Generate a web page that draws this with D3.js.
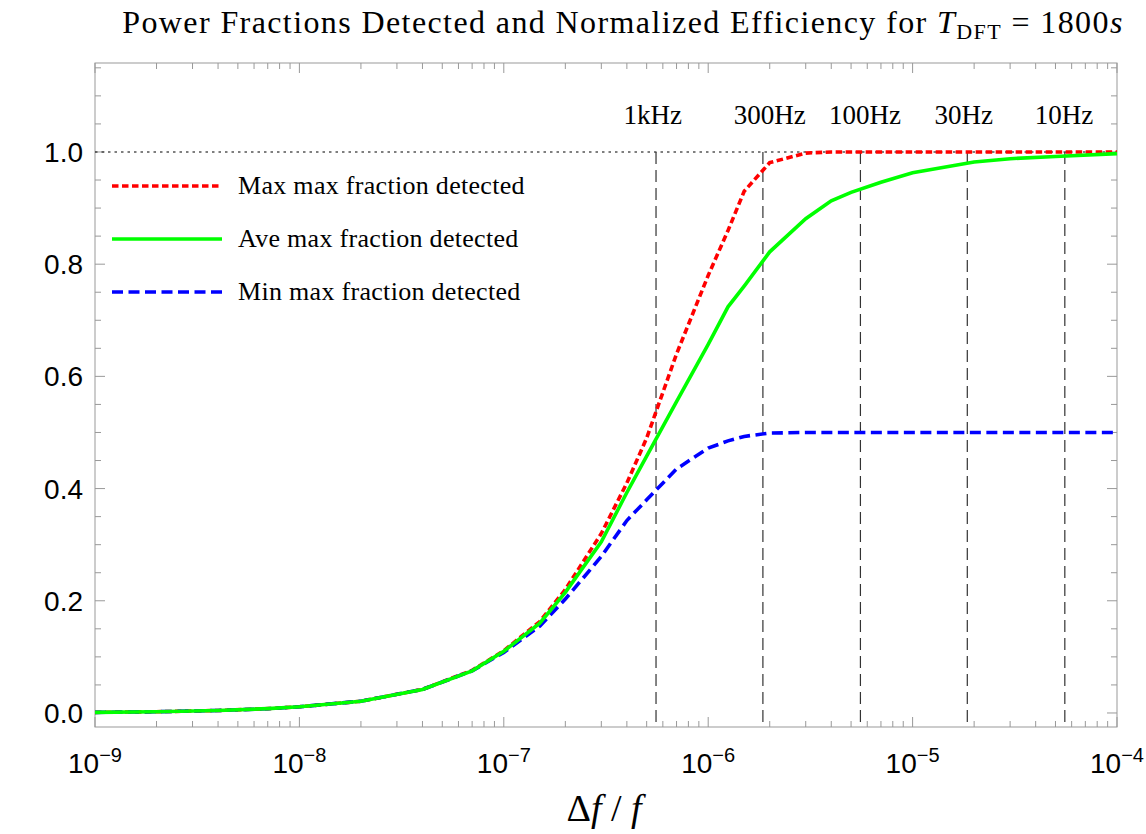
<!DOCTYPE html>
<html>
<head>
<meta charset="utf-8">
<script src="https://cdn.jsdelivr.net/npm/d3@7"></script>
<style>
  body { margin: 0; background: #fff; }
  svg { display: block; }
</style>
</head>
<body>
<div id="chart"></div>
<script>
// Δf/f sample points (shared by all three series)
const ratio = [1e-9, 2e-9, 4e-9, 7e-9, 1e-8, 2e-8, 4e-8, 7e-8, 1e-7, 1.5e-7, 2e-7, 3e-7, 4e-7, 5e-7,
               7e-7, 1e-6, 1.25e-6, 1.5e-6, 2e-6, 3e-6, 4e-6, 5e-6, 7e-6, 1e-5, 2e-5, 3e-5, 5e-5, 1e-4];

const maxFrac = [0.0011, 0.0022, 0.0044, 0.0077, 0.011, 0.021, 0.042, 0.076, 0.111, 0.163, 0.22, 0.32, 0.41, 0.49,
                 0.64, 0.78, 0.86, 0.93, 0.981, 0.998, 1.0, 1.0, 1.0, 1.0, 1.0, 1.0, 1.0, 1.0];
const aveFrac = [0.0011, 0.0022, 0.0044, 0.0077, 0.011, 0.021, 0.042, 0.075, 0.11, 0.16, 0.215, 0.305, 0.393, 0.458,
                 0.555, 0.657, 0.724, 0.761, 0.822, 0.881, 0.913, 0.928, 0.946, 0.963, 0.982, 0.988, 0.992, 0.997];
const minFrac = [0.0011, 0.0022, 0.0044, 0.0076, 0.011, 0.021, 0.042, 0.075, 0.108, 0.155, 0.203, 0.279, 0.343, 0.38,
                 0.435, 0.472, 0.485, 0.493, 0.499, 0.5, 0.5, 0.5, 0.5, 0.5, 0.5, 0.5, 0.5, 0.5];

// frequency markers: Δf/f = 1/(T f), T = 1800 s
const freqLabels = ["1kHz", "300Hz", "100Hz", "30Hz", "10Hz"];
const freqHz = [1000, 300, 100, 30, 10];
const freqLabelAt = [5.35e-7, 2.0e-6, 5.85e-6, 1.78e-5, 5.5e-5];
const T_DFT = 1800;

const seriesNames = ["Max max fraction detected", "Ave max fraction detected", "Min max fraction detected"];

const yTicks = [0.0, 0.2, 0.4, 0.6, 0.8, 1.0];
const xTicks = [1e-9, 1e-8, 1e-7, 1e-6, 1e-5, 1e-4];
const xTickExp = ["−9", "−8", "−7", "−6", "−5", "−4"];

const W = 1146, H = 834;
const margin = {top: 63, right: 29, bottom: 107, left: 95},
      width = W - margin.left - margin.right,
      height = H - margin.top - margin.bottom;

const svg = d3.select("#chart").append("svg")
    .attr("width", W)
    .attr("height", H);

const g = svg.append("g")
    .attr("transform", `translate(${margin.left},${margin.top})`);

const x = d3.scaleLog().domain([1e-9, 1e-4]).range([0, width]);
const y = d3.scaleLinear().domain([-0.025, 1.1586]).range([height, 0]);

const serif = "'Liberation Serif', 'Times New Roman', serif";
const sans = "'Liberation Sans', Arial, sans-serif";

// minor/major tick values
const xMinor = [];
for (let e = -9; e < -4; e++) for (let k = 2; k <= 9; k++) xMinor.push(k * Math.pow(10, e));
const yMinor = d3.range(0, 24).map(i => +(i * 0.05).toFixed(2)).filter(v => yTicks.indexOf(v) < 0);

// frame
const frameColor = "#999";
g.append("rect")
    .attr("width", width).attr("height", height)
    .attr("fill", "none").attr("stroke", frameColor).attr("stroke-width", 1);

const tickG = g.append("g").attr("stroke", frameColor).attr("stroke-width", 1);
// bottom and top ticks
xTicks.forEach(v => {
    tickG.append("line").attr("x1", x(v)).attr("x2", x(v)).attr("y1", height).attr("y2", height - 10);
    tickG.append("line").attr("x1", x(v)).attr("x2", x(v)).attr("y1", 0).attr("y2", 10);
});
xMinor.forEach(v => {
    tickG.append("line").attr("x1", x(v)).attr("x2", x(v)).attr("y1", height).attr("y2", height - 6);
    tickG.append("line").attr("x1", x(v)).attr("x2", x(v)).attr("y1", 0).attr("y2", 6);
});
// left and right ticks
yTicks.forEach(v => {
    tickG.append("line").attr("x1", 0).attr("x2", 10).attr("y1", y(v)).attr("y2", y(v));
    tickG.append("line").attr("x1", width).attr("x2", width - 10).attr("y1", y(v)).attr("y2", y(v));
});
yMinor.forEach(v => {
    tickG.append("line").attr("x1", 0).attr("x2", 6).attr("y1", y(v)).attr("y2", y(v));
    tickG.append("line").attr("x1", width).attr("x2", width - 6).attr("y1", y(v)).attr("y2", y(v));
});

// y tick labels
g.selectAll(".ylab").data(yTicks).enter().append("text")
    .attr("x", -12).attr("y", d => y(d)).attr("dy", "0.36em")
    .attr("text-anchor", "end")
    .style("font-family", sans).style("font-size", "28px")
    .text(d => d.toFixed(1));

// x tick labels 10^n
xTicks.forEach((v, i) => {
    const t = g.append("text")
        .attr("x", x(v)).attr("y", height + 46)
        .attr("text-anchor", "middle")
        .style("font-family", sans).style("font-size", "28px");
    t.append("tspan").text("10");
    t.append("tspan").attr("dy", -11).style("font-size", "20px").text(xTickExp[i]);
});

// dotted reference at 1.0
g.append("line")
    .attr("x1", 0).attr("x2", width).attr("y1", y(1)).attr("y2", y(1))
    .attr("stroke", "#000").attr("stroke-width", 1.1).attr("stroke-dasharray", "2.5,4");

// vertical frequency lines
freqHz.forEach(f => {
    const xv = x(1 / (T_DFT * f));
    g.append("line")
        .attr("x1", xv).attr("x2", xv).attr("y1", y(1)).attr("y2", height)
        .attr("stroke", "#333").attr("stroke-width", 1.2).attr("stroke-dasharray", "12,6");
});
g.selectAll(".flab").data(freqLabels).enter().append("text")
    .attr("x", (d, i) => x(freqLabelAt[i])).attr("y", 124 - margin.top)
    .attr("text-anchor", "middle")
    .style("font-family", serif).style("font-size", "27px")
    .text(d => d);

// curves
const styles = [
    {color: "#ff0000", dash: "6.5,3.5", values: maxFrac},
    {color: "#00ff00", dash: null, values: aveFrac},
    {color: "#0000ff", dash: "11,5.5", values: minFrac}
];
const line = d3.line().x(d => x(d[0])).y(d => y(d[1]));

[0, 2, 1].forEach(i => {
    const s = styles[i];
    g.append("path")
        .datum(ratio.map((r, j) => [r, s.values[j]]))
        .attr("fill", "none")
        .attr("stroke", s.color)
        .attr("stroke-width", 3.6)
        .attr("stroke-dasharray", s.dash)
        .attr("d", line);
});

// legend
const legend = svg.append("g");
seriesNames.forEach((name, i) => {
    const ly = 186 + i * 53;
    legend.append("line")
        .attr("x1", 112).attr("x2", 222).attr("y1", ly).attr("y2", ly)
        .attr("stroke", styles[i].color).attr("stroke-width", 3.6)
        .attr("stroke-dasharray", styles[i].dash);
    legend.append("text")
        .attr("x", 238).attr("y", ly).attr("dy", "0.32em")
        .style("font-family", serif).style("font-size", "26px")
        .style("letter-spacing", "0.3px")
        .text(name);
});

// title
const title = svg.append("text")
    .attr("x", 623).attr("y", 33)
    .attr("text-anchor", "middle")
    .style("font-family", serif).style("font-size", "32px")
    .style("letter-spacing", "1.4px");
title.append("tspan").text("Power Fractions Detected and Normalized Efficiency for ");
title.append("tspan").style("font-style", "italic").text("T");
title.append("tspan").attr("dy", 6).style("font-size", "22px").text("DFT");
title.append("tspan").attr("dy", -6).text(" = 1800");
title.append("tspan").style("font-style", "italic").text("s");

// x axis label
const xl = svg.append("text")
    .attr("x", 604).attr("y", 821)
    .attr("text-anchor", "middle")
    .style("font-family", serif).style("font-size", "38px");
xl.append("tspan").text("Δ");
xl.append("tspan").style("font-style", "italic").text("f");
xl.append("tspan").text(" / ");
xl.append("tspan").style("font-style", "italic").text("f");
</script>
</body>
</html>
